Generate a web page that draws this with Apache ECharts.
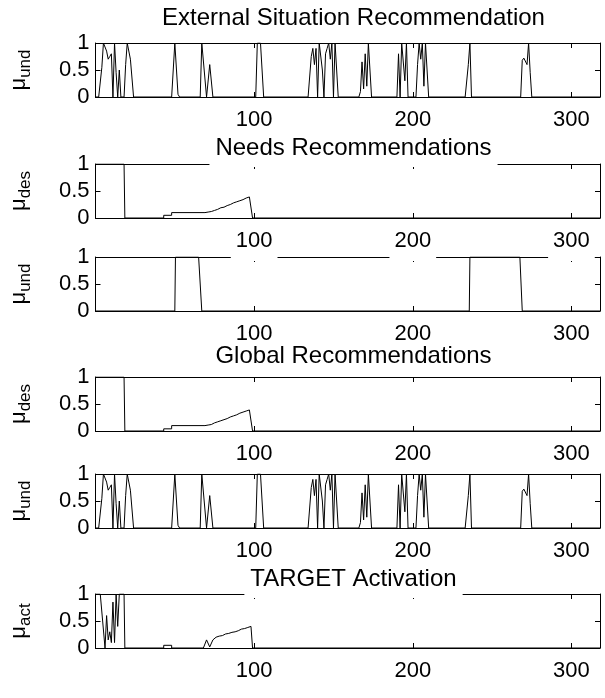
<!DOCTYPE html>
<html>
<head>
<meta charset="utf-8">
<script src="https://cdn.jsdelivr.net/npm/echarts@6/dist/echarts.min.js"></script>
<style>html,body{margin:0;padding:0;background:#fff}#c{width:605px;height:698px}</style>
</head>
<body>
<div id="c"></div>
<script>
// ---- data (x = sample index, y = membership value) ----
const xTicks = [100, 200, 300];
const yTicks = [0, 0.5, 1];
const titles = ['External Situation Recommendation', 'Needs Recommendations', '', 'Global Recommendations', '', 'TARGET Activation'];
const yNames = [['μ', 'und'], ['μ', 'des'], ['μ', 'und'], ['μ', 'des'], ['μ', 'und'], ['μ', 'act']];

const externalUnd = [[0,0],[2,0],[4,0.55],[5,1],[6,1],[7,0.85],[8,0.7],[9,0.75],[10,0.8],[11,0],[12,1],[13,0.45],[14,0],[15,0.5],[16,0],[18,0],[19,0.6],[20,1],[21,1],[22,0.7],[23,0.7],[24,0],
[48,0],[50,1],[52,0.05],[53,0],
[66,0],[67,1],[68,1],[70,0],[72,0.6],[74,0],
[101,0],[102,1],[104,1],[106,0],
[134,0],[136,0.75],[137,0.9],[138,0.6],[139,0.9],[140,0],[141,1],[142,1],[143,0.5],[144,0],[145,0.8],[146,0.9],[147,1],[148,0.7],[149,1],[150,0],[151,1],[152,0.5],[153,0],
[166,0],[167,0.1],[168,0.65],[169,0.15],[170,0.8],[171,0.2],[172,1],[173,1],[174,0],
[190,0],[191,0.8],[192,0],[193,1],[194,1],[195,0.3],[196,1],[197,0],
[202,0],[203,0.6],[204,1],[205,0.7],[206,1],[207,0.2],[208,1],[209,0.5],[210,0],
[233,0],[235,0.6],[236,1],[237,0],
[268,0],[269,0.68],[270,0.72],[271,0.75],[272,0.6],[273,1],[274,0.45],[275,0],
[318,0]];

const needsDes = [[0,1],[18,1],[18.5,0],[43,0],[43,0.05],[48,0.05],[48,0.1],[69,0.1],[69,0.11],[71,0.11],[71,0.12],[73,0.12],[73,0.14],[75,0.14],[75,0.16],[77,0.16],[77,0.19],[79,0.19],[79,0.2],[81,0.2],[81,0.23],[83,0.23],[83,0.25],[85,0.25],[85,0.28],[87,0.28],[87,0.3],[89,0.3],[89,0.32],[91,0.32],[91,0.34],[93,0.34],[93,0.37],[95,0.37],[95,0.39],[97,0.39],[97,0.4],[98,0.4],[99,0],[318,0]];

const needsUnd = [[0,0],[50,0],[50.4,1],[65,1],[67,0],[235.6,0],[236,1],[267.5,1],[269,0],[318,0]];

const globalDes = [[0,1],[18,1],[18.5,0],[43,0],[43,0.04],[48,0.04],[48,0.1],[69,0.1],[69,0.11],[71,0.11],[71,0.12],[73,0.12],[73,0.15],[75,0.15],[75,0.17],[77,0.17],[77,0.19],[79,0.19],[79,0.21],[81,0.21],[81,0.23],[83,0.23],[83,0.26],[85,0.26],[85,0.28],[87,0.28],[87,0.3],[89,0.3],[89,0.33],[91,0.33],[91,0.35],[93,0.35],[93,0.37],[95,0.37],[95,0.39],[97,0.39],[97,0.4],[98,0.4],[99,0],[318,0]];

const globalUnd = [[0,0],[2,0],[4,0.55],[5,1],[6,1],[7,0.85],[8,0.7],[9,0.75],[10,0.8],[11,0],[12,1],[13,0.45],[14,0],[15,0.5],[16,0],[18,0],[19,0.6],[20,1],[21,1],[22,0.7],[23,0.7],[24,0],
[48,0],[50,1],[52,0.05],[53,0],
[66,0],[67,1],[68,1],[70,0],[72,0.6],[74,0],
[101,0],[102,1],[104,1],[106,0],
[134,0],[136,0.75],[137,0.9],[138,0.6],[139,0.9],[140,0],[141,1],[142,1],[143,0.5],[144,0],[145,0.8],[146,0.9],[147,1],[148,0.7],[149,1],[150,0],[151,1],[152,0.5],[153,0],
[166,0],[167,0.1],[168,0.65],[169,0.15],[170,0.8],[171,0.2],[172,1],[173,1],[174,0],
[190,0],[191,0.8],[192,0],[193,1],[194,1],[195,0.3],[196,1],[197,0],
[202,0],[203,0.6],[204,1],[205,0.7],[206,1],[207,0.2],[208,1],[209,0.5],[210,0],
[233,0],[235,0.6],[236,1],[237,0],
[268,0],[269,0.68],[270,0.72],[271,0.75],[272,0.6],[273,1],[274,0.45],[275,0],
[318,0]];

const targetAct = [[0,1],[3,1],[6,0],[7,0.6],[8,0.15],[9,0.3],[10,0.1],[11,0.85],[12,0.1],[13,1],[14,0.4],[15,1],[18,1],[18.5,0],
[43,0],[43,0.05],[48,0.05],[48,0],[68,0],[70,0.15],[72,0.02],[74,0.15],[76,0.2],[78,0.22],[80,0.23],[82,0.26],[84,0.27],[86,0.29],[88,0.3],[90,0.32],[92,0.35],[94,0.36],[96,0.38],[97,0.4],[98,0.4],[99,0],[318,0]];

const seriesData = [externalUnd, needsDes, needsUnd, globalDes, globalUnd, targetAct];

// ---- layout ----
const FONT = "'Liberation Sans', Arial, Helvetica, sans-serif";
const tops = [43, 164, 257, 377, 474, 594];
const titleTops = [5, 135, 0, 343, 0, 566];
const TITLE_SIZE = 24;
const PH = 54, PL = 95, PW = 505;
const XMIN = 0, XMAX = 318;

const grid = [], xAxis = [], yAxis = [], series = [], title = [];
tops.forEach((t, i) => {
  grid.push({left: PL, top: t, width: PW, height: PH, containLabel: false});
  const tickInside = {show: true, inside: true, length: 5, lineStyle: {color: '#000', width: 1}, customValues: xTicks};
  xAxis.push({type: 'value', gridIndex: i, position: 'bottom', min: XMIN, max: XMAX, z: i === 1 ? 3 : 0,
    axisLine: {show: true, onZero: false, lineStyle: {color: '#000', width: 1}},
    axisTick: tickInside,
    axisLabel: {show: true, customValues: xTicks, color: '#000', fontSize: 22, fontFamily: FONT, margin: 12,
      backgroundColor: i === 1 ? '#fff' : 'transparent', padding: i === 1 ? [0, 5, 9, 5] : 0},
    splitLine: {show: false}});
  xAxis.push({type: 'value', gridIndex: i, position: 'top', min: XMIN, max: XMAX,
    axisLine: {show: true, onZero: false, lineStyle: {color: '#000', width: 1}},
    axisTick: tickInside, axisLabel: {show: false}, splitLine: {show: false}});
  const yTick = {show: true, inside: true, length: 5, lineStyle: {color: '#000', width: 1}, customValues: yTicks};
  yAxis.push({type: 'value', gridIndex: i, position: 'left', min: 0, max: 1,
    axisLine: {show: true, onZero: false, lineStyle: {color: '#000', width: 1}},
    axisTick: yTick,
    axisLabel: {show: true, customValues: yTicks, color: '#000', fontSize: 22, fontFamily: FONT, margin: 6,
      formatter: v => String(v)},
    splitLine: {show: false},
    name: '{m|' + yNames[i][0] + '}{s|' + yNames[i][1] + '}',
    nameLocation: 'middle', nameRotate: 90, nameGap: 62,
    nameTextStyle: {color: '#000', fontFamily: FONT,
      rich: {m: {fontSize: 22, fontFamily: FONT, color: '#000'},
             s: {fontSize: 17, fontFamily: FONT, color: '#000', verticalAlign: 'bottom', padding: [12, 0, 0, 0]}}}});
  yAxis.push({type: 'value', gridIndex: i, position: 'right', min: 0, max: 1,
    axisLine: {show: true, onZero: false, lineStyle: {color: '#000', width: 1}},
    axisTick: yTick, axisLabel: {show: false}, splitLine: {show: false}});
  series.push({type: 'line', xAxisIndex: 2 * i, yAxisIndex: 2 * i, data: seriesData[i],
    symbol: 'none', lineStyle: {color: '#000', width: 1}, animation: false, clip: true});
  if (titles[i]) {
    title.push({text: titles[i], left: PL + PW / 2, textAlign: 'center', top: titleTops[i],
      backgroundColor: '#fff', padding: [1, 6, 7, 6],
      textStyle: {color: '#000', fontSize: TITLE_SIZE, fontWeight: 'normal', fontFamily: FONT}});
  }
});

const chart = echarts.init(document.getElementById('c'), null, {renderer: 'canvas'});
chart.setOption({backgroundColor: '#fff', animation: false, title, grid, xAxis, yAxis, series});
</script>
</body>
</html>
